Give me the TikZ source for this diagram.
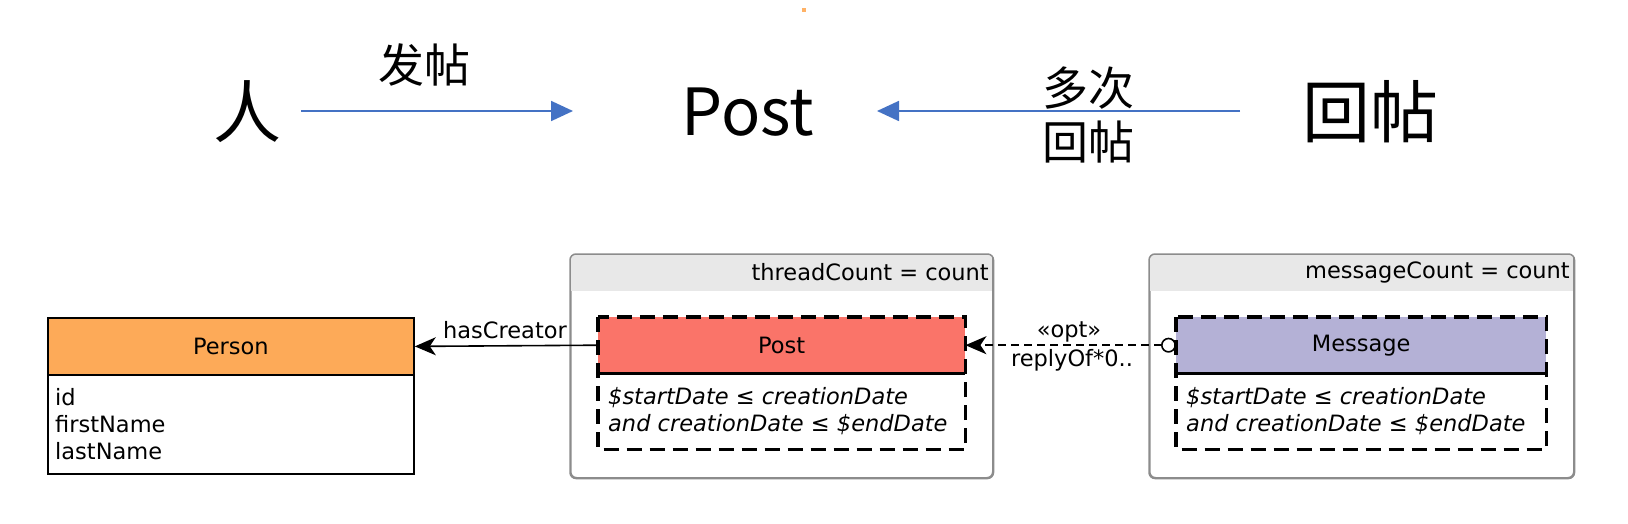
\documentclass[tikz,border=0pt]{standalone}
\usepackage{fontspec}
\setmainfont{DejaVu Sans}
\newfontfamily\cjk{Noto Sans CJK SC}
\usetikzlibrary{arrows.meta}
\definecolor{bluearr}{HTML}{4472C4}
\definecolor{personor}{HTML}{FDAA58}
\definecolor{postred}{HTML}{FA7469}
\definecolor{msgpurple}{HTML}{B4B1D6}
\definecolor{bandgray}{HTML}{E8E8E8}
\definecolor{framegray}{HTML}{8C8C8C}
\tikzset{
  bigtxt/.style={font=\cjk\fontsize{68}{80}\selectfont, inner sep=0pt},
  lbltxt/.style={font=\cjk\fontsize{46}{54}\selectfont, inner sep=0pt, align=center},
  bluearrow/.style={draw=bluearr, line width=1.8pt, -{Triangle[length=22pt,width=20pt]}},
  uml/.style={font=\fontsize{22.5}{27}\selectfont, inner sep=0pt},
  boxhead/.style={draw=black, line width=1.8pt, anchor=north west, inner sep=0pt},
  frame/.style={draw=framegray, line width=1.5pt, rounded corners=6pt},
  dashbox/.style={draw=black, line width=3.6pt, dash pattern=on 15pt off 8pt},
  sepline/.style={draw=black, line width=3.6pt},
}
\begin{document}
\begin{tikzpicture}[x=1pt,y=-1pt]
\useasboundingbox (0,0) rectangle (1628,524);
\fill[white] (0,0) rectangle (1628,524);
% tiny orange dot
\fill[orange!60] (802,8) rectangle (806,12);

% ---------- top diagram ----------
\node[bigtxt] (ren) at (247,112) {人};
\node[bigtxt, font=\cjk\fontsize{65}{78}\selectfont] (post) at (748,112) {Post};
\node[bigtxt] (huitie) at (1370,112) {回帖};
\coordinate (a1s) at (301,111);
\coordinate (a1e) at (573,111);
\coordinate (a2s) at (1240,111);
\coordinate (a2e) at (877,111);
\draw[bluearrow] (a1s) -- (a1e);
\draw[bluearrow] (a2s) -- (a2e);
\node[lbltxt] (fatie) at (424,65) {发帖};
\node[lbltxt] (duoci) at (1088,115) {多次\\回帖};

% ---------- Person ----------
\node[boxhead, fill=personor, minimum width=366pt, minimum height=57pt] (personHead) at (47,317) {};
\node[uml] (personName) at (personHead.center) {Person};
\node[boxhead, fill=white, minimum width=366pt, minimum height=99pt] (personBody) at (47,374) {};
\node[uml, anchor=west, align=left] (personAttr) at (55,424) {id\\firstName\\lastName};

% ---------- Post frame ----------
\node[frame, fill=white, anchor=north west, minimum width=422pt, minimum height=223pt, inner sep=0pt] (postFrame) at (570,254) {};
\begin{scope}
  \clip[rounded corners=6pt] (postFrame.north west) rectangle (postFrame.south east);
  \fill[bandgray] (570,254) rectangle (992,291);
\end{scope}
\draw[frame] (postFrame.north west) rectangle (postFrame.south east);
\node[uml, anchor=east] (postCount) at (989,272) {threadCount = count};

\node[anchor=north west, fill=postred, minimum width=367pt, minimum height=56pt, inner sep=0pt] (postHead) at (598,317) {};
\node[uml] (postName) at (postHead.center) {Post};
\node[anchor=north west, minimum width=367pt, minimum height=76pt, inner sep=0pt] (postBody) at (598,373) {};
\draw[dashbox] (postHead.north west) rectangle (postBody.south east);
\draw[sepline] (postHead.south west) -- (postHead.south east);
\node[uml, anchor=west, align=left, font=\fontsize{22.5}{27}\selectfont\itshape] (postCond) at (608,411) {\$startDate ≤ creationDate\\and creationDate ≤ \$endDate};

% ---------- Message frame ----------
\node[frame, fill=white, anchor=north west, minimum width=424pt, minimum height=223pt, inner sep=0pt] (msgFrame) at (1149,254) {};
\begin{scope}
  \clip[rounded corners=6pt] (msgFrame.north west) rectangle (msgFrame.south east);
  \fill[bandgray] (1149,254) rectangle (1573,291);
\end{scope}
\draw[frame] (msgFrame.north west) rectangle (msgFrame.south east);
\node[uml, anchor=east] (msgCount) at (1570,272) {messageCount = count};

\node[anchor=north west, fill=msgpurple, minimum width=370pt, minimum height=56pt, inner sep=0pt] (msgHead) at (1176,317) {};
\node[uml] (msgName) at (msgHead.center) {Message};
\node[anchor=north west, minimum width=370pt, minimum height=76pt, inner sep=0pt] (msgBody) at (1176,373) {};
\draw[dashbox] (msgHead.north west) rectangle (msgBody.south east);
\draw[sepline] (msgHead.south west) -- (msgHead.south east);
\node[uml, anchor=west, align=left, font=\fontsize{22.5}{27}\selectfont\itshape] (msgCond) at (1186,411) {\$startDate ≤ creationDate\\and creationDate ≤ \$endDate};

% ---------- connectors ----------
\draw[line width=1.6pt, -{Stealth[length=21pt,width=18pt,inset=6pt]}] (postHead.west) -- (personHead.east);
\node[uml] (hasCreator) at (505,330) {hasCreator};
\draw[line width=1.6pt, dash pattern=on 8pt off 5pt, {Circle[open,length=15pt,width=15pt,line width=1.6pt]}-{Stealth[length=21pt,width=18pt,inset=6pt]}] (msgHead.west) -- (postHead.east);
\node[uml] (opt) at (1069,332) {«opt»};
\node[uml] (replyOf) at (1072,360) {replyOf*0..};
\end{tikzpicture}
\end{document}
